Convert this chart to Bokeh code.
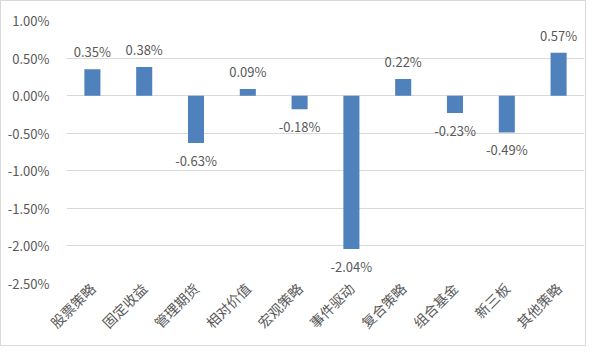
import math
from bokeh.plotting import figure
from bokeh.models import ColumnDataSource, FactorRange, Range1d, FixedTicker, NumeralTickFormatter
from bokeh.core.properties import value
from bokeh.embed import file_html
from bokeh.resources import INLINE

categories = ["股票策略", "固定收益", "管理期货", "相对价值", "宏观策略",
              "事件驱动", "复合策略", "组合基金", "新三板", "其他策略"]
returns = [0.0035, 0.0038, -0.0063, 0.0009, -0.0018,
           -0.0204, 0.0022, -0.0023, -0.0049, 0.0057]
y_ticks = [-0.025, -0.02, -0.015, -0.01, -0.005, 0.0, 0.005, 0.01]

FONT = "Noto Sans CJK SC"
TXT = "#595959"

labels = ["%.2f%%" % (v * 100) for v in returns]
src = ColumnDataSource(dict(cat=categories, val=returns, lab=labels))
pos = ColumnDataSource(dict(
    cat=[c for c, v in zip(categories, returns) if v >= 0],
    val=[v for v in returns if v >= 0],
    lab=[l for l, v in zip(labels, returns) if v >= 0],
))
neg = ColumnDataSource(dict(
    cat=[c for c, v in zip(categories, returns) if v < 0],
    val=[v for v in returns if v < 0],
    lab=[l for l, v in zip(labels, returns) if v < 0],
))

p = figure(width=586, height=346, output_backend="svg", toolbar_location=None,
           x_range=FactorRange(factors=categories, range_padding=0),
           y_range=Range1d(-0.025, 0.01),
           min_border_left=65, min_border_right=3, min_border_top=19, min_border_bottom=64)
p.styles = {"border": "1px solid #d9d9d9"}
p.outline_line_color = None
p.background_fill_color = "white"
p.border_fill_color = "white"

p.vbar(x="cat", top="val", bottom=0, width=0.31, source=src,
       fill_color="#4F81BD", line_color=None)

p.text(x="cat", y="val", text="lab", source=pos, text_align="center",
       text_baseline="bottom", y_offset=-8, text_font=value(FONT),
       text_font_size="13px", text_color=TXT)
p.text(x="cat", y="val", text="lab", source=neg, text_align="center",
       text_baseline="top", y_offset=8, text_font=value(FONT),
       text_font_size="13px", text_color=TXT)

p.yaxis.ticker = FixedTicker(ticks=y_ticks)
p.yaxis.formatter = NumeralTickFormatter(format="0.00%")
p.yaxis.axis_line_color = None
p.yaxis.major_tick_line_color = None
p.yaxis.minor_tick_line_color = None
p.yaxis.major_label_standoff = 11
p.yaxis.major_label_text_font = FONT
p.yaxis.major_label_text_font_size = "13px"
p.yaxis.major_label_text_color = TXT

p.xaxis.axis_line_color = None
p.xaxis.major_tick_line_color = None
p.xaxis.minor_tick_line_color = None
p.xaxis.major_tick_out = 0
p.xaxis.major_tick_in = 0
p.xaxis.major_label_orientation = math.pi / 4
p.xaxis.major_label_standoff = 2
p.xaxis.major_label_text_font = FONT
p.xaxis.major_label_text_font_size = "14px"
p.xaxis.major_label_text_color = TXT

p.xgrid.grid_line_color = None
p.ygrid.grid_line_color = "#D9D9D9"
p.ygrid.grid_line_width = 1

open("out.html", "w").write(file_html(p, INLINE))
